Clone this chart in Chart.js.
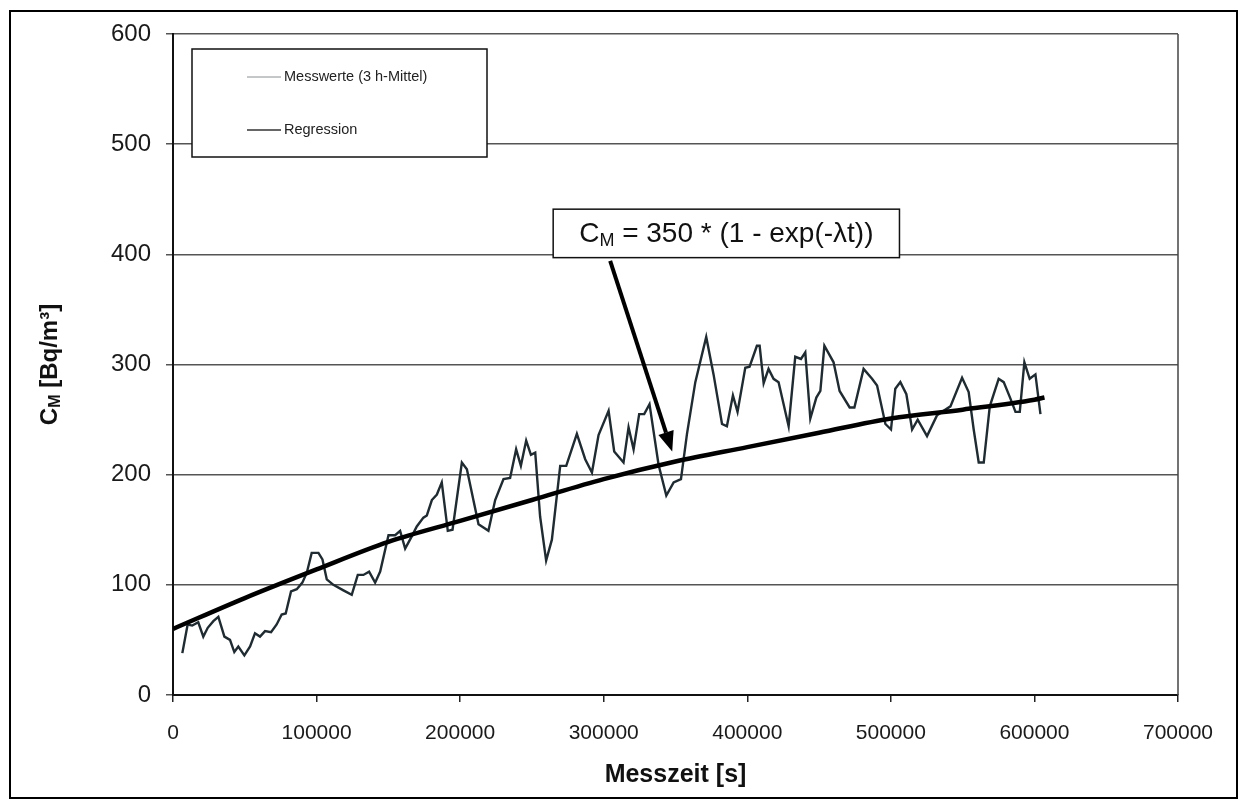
<!DOCTYPE html>
<html>
<head>
<meta charset="utf-8">
<script src="https://cdn.jsdelivr.net/npm/chart.js@4.4.1/dist/chart.umd.min.js"></script>
<style>
  html, body { margin: 0; padding: 0; background: #ffffff; }
  #wrap { position: relative; width: 1243px; height: 805px; }
  #frame { position: absolute; left: 9px; top: 10px; width: 1225px; height: 785px; border: 2px solid #000; pointer-events: none; }
  canvas { position: absolute; left: 0; top: 0; }
</style>
</head>
<body>
<div id="wrap">
  <canvas id="c" width="1243" height="805"></canvas>
  <div id="frame"></div>
</div>
<script>
// ---- Data ----
const measTime = [6500,10200,13400,17600,21100,24200,28100,31600,35800,39700,42700,45500,49700,53700,57100,60600,64100,68300,72200,75700,78500,82200,86200,90100,93200,96600,101300,104100,107100,111700,118700,124500,128700,132600,136600,140800,144300,150100,154700,158200,161700,166300,169800,174400,176800,180300,183800,187200,191400,194700,201200,204700,212800,219700,224400,230200,234800,239000,242300,246000,249300,252300,255700,259900,263900,269700,273900,281300,287100,291800,296400,303400,307300,313800,317300,320800,324700,328200,331900,338200,343600,348700,353800,358000,363800,371400,376500,382400,385800,390000,393200,398600,401600,406700,408600,411400,414800,418300,421800,428800,433400,437400,440400,443900,448100,450900,453700,460100,464300,471300,474600,481000,486900,490400,496200,500100,503100,506600,510800,514800,518700,525200,532200,541500,549600,554200,557700,561200,564700,568900,575100,578600,583300,586800,589800,593000,596700,600700,604200];
const measValues = [38,64,63,66,53,61,67,71,53,50,39,44,36,44,56,53,58,57,64,73,74,94,96,102,111,129,129,123,105,100,95,91,109,109,112,102,112,145,145,149,133,144,153,161,163,177,182,193,149,150,211,205,155,149,177,196,197,223,208,231,218,220,162,122,141,208,208,237,214,202,236,258,221,211,243,223,255,255,264,209,181,193,196,237,284,325,291,246,244,272,257,297,298,317,317,283,296,287,284,244,307,305,311,251,270,276,317,302,276,261,261,296,287,281,246,241,278,284,273,241,250,235,254,262,288,275,241,211,211,262,287,284,269,257,257,302,287,291,255];
const regTime = [0,50000,100000,150000,200000,250000,300000,350000,400000,450000,500000,550000,600000,607000];
const regValues = [60,88,114,139,158,177,196,212,225,238,251,259,268,270];
const seriesLabels = ['Messwerte (3 h-Mittel)', 'Regression'];
const xTickLabels = ['0','100000','200000','300000','400000','500000','600000','700000'];
const yTickLabels = ['0','100','200','300','400','500','600'];
const xAxisTitle = 'Messzeit [s]';
const yAxisTitleMain = 'C';
const yAxisTitleSub = 'M';
const yAxisTitleRest = ' [Bq/m³]';
const annotMain = 'C';
const annotSub = 'M';
const annotRest = ' = 350 * (1 - exp(-λt))';
// annotation geometry in data units (box corners and arrow)
const annotBox = { x1: 264800, x2: 506000, y1: 397, y2: 441 };
const annotArrow = { fromX: 304500, fromY: 394, toX: 347700, toY: 221 };

const FONT = '"Liberation Sans", Arial, sans-serif';

const measData = measTime.map((t, i) => ({ x: t, y: measValues[i] }));
const regData = regTime.map((t, i) => ({ x: t, y: regValues[i] }));

const overlay = {
  id: 'overlay',
  beforeDatasetsDraw(chart) {
    // right border of the plot area
    const ctx = chart.ctx, ca = chart.chartArea;
    ctx.save();
    ctx.strokeStyle = '#444'; ctx.lineWidth = 1.5;
    ctx.beginPath(); ctx.moveTo(ca.right, ca.top); ctx.lineTo(ca.right, ca.bottom); ctx.stroke();
    ctx.restore();
  },
  afterDraw(chart) {
    const ctx = chart.ctx;
    const xs = chart.scales.x, ys = chart.scales.y;
    const ca = chart.chartArea;
    ctx.save();
    // y axis title with subscript
    ctx.save();
    ctx.translate(50, (ca.top + ca.bottom) / 2);
    ctx.rotate(-Math.PI / 2);
    ctx.fillStyle = '#111';
    ctx.textBaseline = 'middle';
    const fMain = 'bold 24px ' + FONT, fSub = 'bold 16px ' + FONT;
    ctx.font = fMain; const w1 = ctx.measureText(yAxisTitleMain).width;
    const w3 = ctx.measureText(yAxisTitleRest).width;
    ctx.font = fSub; const w2 = ctx.measureText(yAxisTitleSub).width;
    let x0 = -(w1 + w2 + w3) / 2;
    ctx.textAlign = 'left';
    ctx.font = fMain; ctx.fillText(yAxisTitleMain, x0, 0);
    ctx.font = fSub; ctx.fillText(yAxisTitleSub, x0 + w1, 6);
    ctx.font = fMain; ctx.fillText(yAxisTitleRest, x0 + w1 + w2, 0);
    ctx.restore();

    // legend box
    const lx1 = 192, ly1 = 49, lx2 = 487, ly2 = 157;
    ctx.fillStyle = '#fff';
    ctx.fillRect(lx1, ly1, lx2 - lx1, ly2 - ly1);
    ctx.strokeStyle = '#111'; ctx.lineWidth = 1.5;
    ctx.strokeRect(lx1, ly1, lx2 - lx1, ly2 - ly1);
    const items = [
      { y: 77, color: '#8a8f92', w: 1 },
      { y: 130, color: '#333', w: 1.5 }
    ];
    ctx.font = '14.5px ' + FONT; ctx.textBaseline = 'middle'; ctx.textAlign = 'left';
    items.forEach((it, i) => {
      ctx.strokeStyle = it.color; ctx.lineWidth = it.w;
      ctx.beginPath(); ctx.moveTo(247, it.y); ctx.lineTo(281, it.y); ctx.stroke();
      ctx.fillStyle = '#222';
      ctx.fillText(seriesLabels[i], 284, it.y);
    });

    // annotation box
    const bx1 = xs.getPixelForValue(annotBox.x1), bx2 = xs.getPixelForValue(annotBox.x2);
    const by1 = ys.getPixelForValue(annotBox.y2), by2 = ys.getPixelForValue(annotBox.y1);
    ctx.fillStyle = '#fff';
    ctx.fillRect(bx1, by1, bx2 - bx1, by2 - by1);
    ctx.strokeStyle = '#111'; ctx.lineWidth = 1.5;
    ctx.strokeRect(bx1, by1, bx2 - bx1, by2 - by1);
    const aMain = '28px ' + FONT, aSub = '18px ' + FONT;
    ctx.font = aMain; const a1 = ctx.measureText(annotMain).width, a3 = ctx.measureText(annotRest).width;
    ctx.font = aSub; const a2 = ctx.measureText(annotSub).width;
    let ax = (bx1 + bx2) / 2 - (a1 + a2 + a3) / 2;
    const ay = (by1 + by2) / 2 + 1;
    ctx.fillStyle = '#111'; ctx.textBaseline = 'middle';
    ctx.font = aMain; ctx.fillText(annotMain, ax, ay);
    ctx.font = aSub; ctx.fillText(annotSub, ax + a1, ay + 7);
    ctx.font = aMain; ctx.fillText(annotRest, ax + a1 + a2, ay);

    // arrow
    const px1 = xs.getPixelForValue(annotArrow.fromX), py1 = ys.getPixelForValue(annotArrow.fromY);
    const px2 = xs.getPixelForValue(annotArrow.toX), py2 = ys.getPixelForValue(annotArrow.toY);
    const ang = Math.atan2(py2 - py1, px2 - px1);
    const hl = 20, hw = 8;
    const bxp = px2 - hl * Math.cos(ang), byp = py2 - hl * Math.sin(ang);
    ctx.strokeStyle = '#000'; ctx.lineWidth = 4; ctx.lineCap = 'butt';
    ctx.beginPath(); ctx.moveTo(px1, py1); ctx.lineTo(bxp, byp); ctx.stroke();
    ctx.fillStyle = '#000';
    ctx.beginPath();
    ctx.moveTo(px2, py2);
    ctx.lineTo(bxp + hw * Math.sin(ang), byp - hw * Math.cos(ang));
    ctx.lineTo(bxp - hw * Math.sin(ang), byp + hw * Math.cos(ang));
    ctx.closePath(); ctx.fill();
    ctx.restore();
  }
};

new Chart(document.getElementById('c'), {
  type: 'scatter',
  data: {
    datasets: [
      { label: seriesLabels[0], data: measData, showLine: true, borderColor: '#1f2b31', borderWidth: 2.4, pointRadius: 0, tension: 0, order: 2 },
      { label: seriesLabels[1], data: regData, showLine: true, borderColor: '#000', borderWidth: 4.5, pointRadius: 0, cubicInterpolationMode: 'monotone', order: 1 }
    ]
  },
  options: {
    responsive: false,
    animation: false,
    devicePixelRatio: 1,
    layout: { padding: { top: 34, right: 65, left: 0, bottom: 0 } },
    plugins: { legend: { display: false }, tooltip: { enabled: false } },
    scales: {
      x: {
        type: 'linear', min: 0, max: 700000,
        afterFit(s) { s.height = 110; },
        afterBuildTicks(s) { s.ticks = xTickLabels.map(l => ({ value: Number(l) })); },
        ticks: { callback: (v) => String(v), color: '#1a1a1a', font: { family: FONT, size: 21 }, padding: 19, maxRotation: 0, autoSkip: false },
        grid: { drawOnChartArea: false, drawTicks: true, tickLength: 7, color: '#222', lineWidth: 1.5 },
        border: { display: true, color: '#111', width: 2 },
        title: { display: true, text: xAxisTitle, color: '#111', font: { family: FONT, size: 25, weight: 'bold' }, padding: { top: 4, bottom: 15 } }
      },
      y: {
        type: 'linear', min: 0, max: 600,
        afterFit(s) { s.width = 173; },
        afterBuildTicks(s) { s.ticks = yTickLabels.map(l => ({ value: Number(l) })); },
        ticks: { callback: (v) => String(v), color: '#1a1a1a', font: { family: FONT, size: 24 }, padding: 15 },
        grid: { color: '#555', lineWidth: 1.5, tickLength: 7, drawTicks: true },
        border: { display: true, color: '#111', width: 2 }
      }
    }
  },
  plugins: [overlay]
});
</script>
</body>
</html>
